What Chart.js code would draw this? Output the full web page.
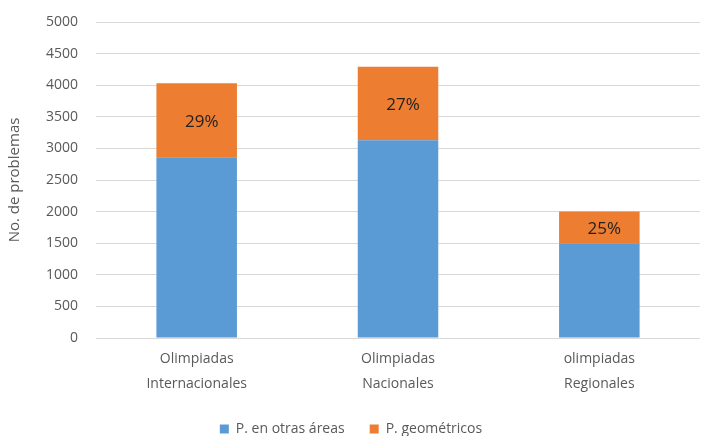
<!DOCTYPE html>
<html lang="es">
<head>
    <meta charset="UTF-8">
    <title>Problemas por olimpiada</title>
    <script src="https://cdn.jsdelivr.net/npm/chart.js"></script>
    <style>
        body { margin: 0; background: #fff; }
        #wrap { width: 708px; height: 436px; }
    </style>
</head>
<body>
    <div id="wrap"><canvas id="chart"></canvas></div>

    <script>
        // datos
        const categorias = [['Olimpiadas', 'Internacionales'], ['Olimpiadas', 'Nacionales'], ['olimpiadas', 'Regionales']];
        const otrasAreas = [2860, 3130, 1500];
        const geometricos = [1170, 1160, 500];
        const ticksY = [0, 500, 1000, 1500, 2000, 2500, 3000, 3500, 4000, 4500, 5000];

        const gris = '#595959';
        const fuente = '"Open Sans", sans-serif';

        // porcentaje de problemas geometricos dentro del segmento naranja
        const etiquetasPct = {
            id: 'etiquetasPct',
            afterDatasetsDraw(chart) {
                const ctx = chart.ctx;
                const meta = chart.getDatasetMeta(1);
                ctx.save();
                ctx.font = '17px ' + fuente;
                ctx.fillStyle = '#222';
                ctx.textAlign = 'center';
                ctx.textBaseline = 'middle';
                meta.data.forEach((bar, i) => {
                    const total = otrasAreas[i] + geometricos[i];
                    const pct = Math.round(geometricos[i] / total * 100) + '%';
                    ctx.fillText(pct, bar.x + 5, (bar.y + bar.base) / 2 + 2);
                });
                ctx.restore();
            }
        };

        new Chart(document.getElementById('chart'), {
            type: 'bar',
            data: {
                labels: categorias,
                datasets: [
                    { label: 'P. en otras áreas', data: otrasAreas, backgroundColor: '#5b9bd5' },
                    { label: 'P. geométricos', data: geometricos, backgroundColor: '#ed7d31' }
                ]
            },
            options: {
                responsive: true,
                maintainAspectRatio: false,
                animation: false,
                layout: { padding: { top: 22, right: 8, left: 2, bottom: -10 } },
                datasets: { bar: { categoryPercentage: 1, barPercentage: 0.4 } },
                plugins: {
                    legend: {
                        position: 'bottom',
                        labels: {
                            boxWidth: 9, boxHeight: 9, padding: 25,
                            color: gris, font: { family: fuente, size: 14 }
                        }
                    },
                    tooltip: { enabled: false }
                },
                scales: {
                    x: {
                        stacked: true,
                        grid: { display: false },
                        border: { display: false },
                        ticks: { color: gris, padding: 1, font: { family: fuente, size: 14, lineHeight: 1.75 } }
                    },
                    y: {
                        stacked: true,
                        min: 0,
                        max: 5000,
                        afterBuildTicks: axis => { axis.ticks = ticksY.map(v => ({ value: v })); },
                        afterFit: axis => { axis.paddingTop = 0; },
                        grid: { color: '#d9d9d9', drawTicks: false },
                        border: { display: false },
                        ticks: {
                            color: gris, padding: 18, font: { family: fuente, size: 14 },
                            callback: v => String(v)
                        },
                        title: {
                            display: true, text: 'No. de problemas',
                            color: gris, font: { family: fuente, size: 15 }
                        }
                    }
                }
            },
            plugins: [etiquetasPct]
        });
    </script>
</body>
</html>
